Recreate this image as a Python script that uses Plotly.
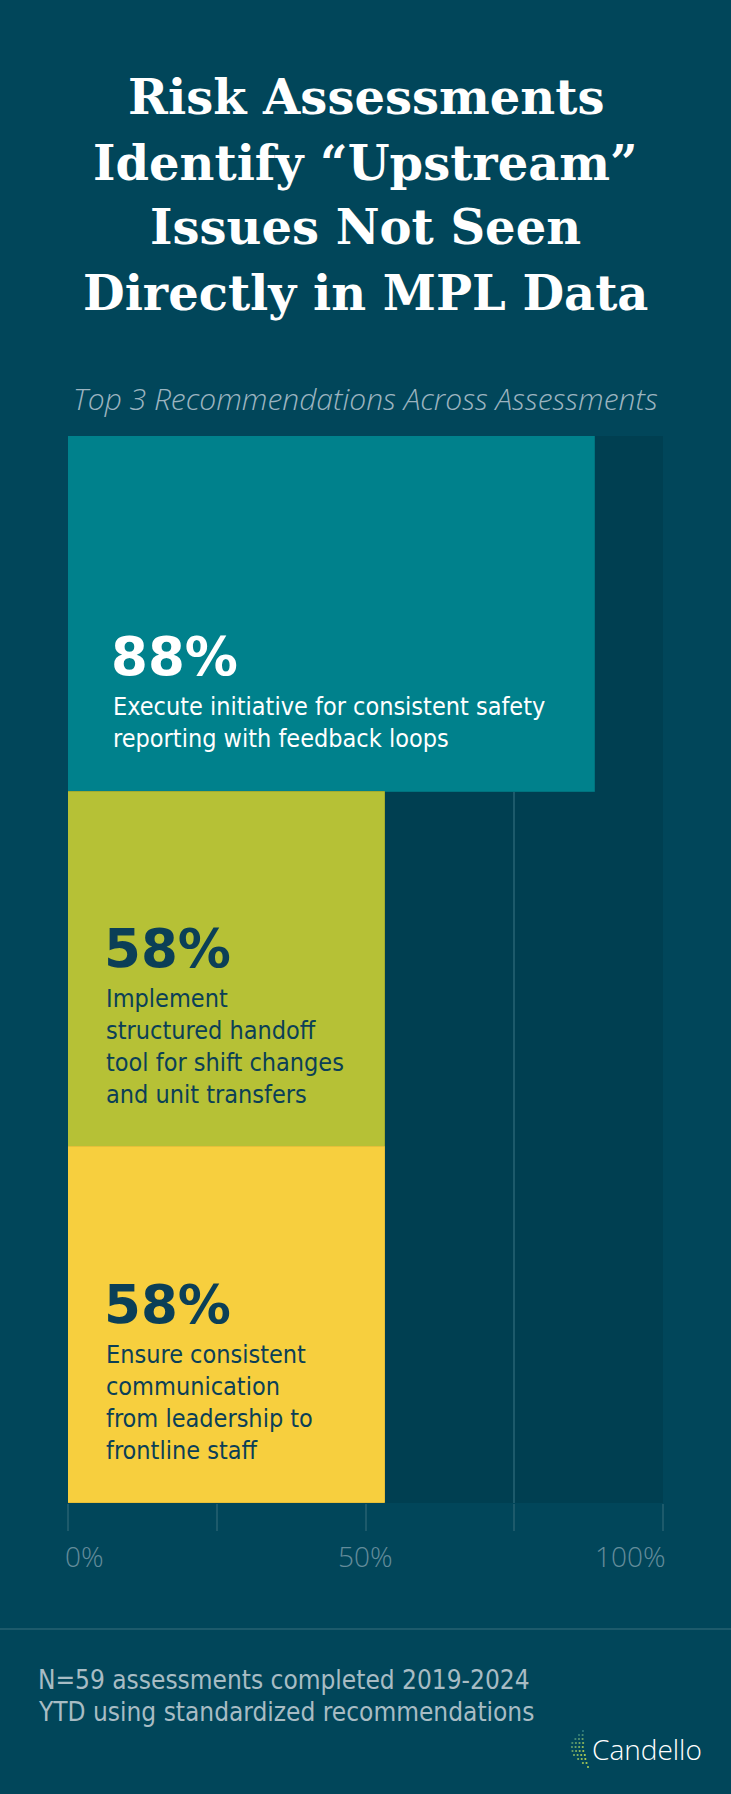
import numpy as np
import plotly.graph_objects as go

# ---------------- data ----------------
title_lines = ["Risk Assessments", "Identify “Upstream”", "Issues Not Seen", "Directly in MPL Data"]
subtitle = "Top 3 Recommendations Across Assessments"
recommendations = [
    ["Execute initiative for consistent safety", "reporting with feedback loops"],
    ["Implement", "structured handoff", "tool for shift changes", "and unit transfers"],
    ["Ensure consistent", "communication", "from leadership to", "frontline staff"],
]
pct_labels = ["88%", "58%", "58%"]
bar_lengths = [88.5, 53.2, 53.2]   # bar extents as drawn in the reference (percent of axis)
tick_values = [0, 50, 100]
tick_labels = ["0%", "50%", "100%"]
footnote_lines = ["N=59 assessments completed 2019-2024", "YTD using standardized recommendations"]
brand = "Candello"

# ---------------- styles ----------------
W, H = 731, 1794
L, R, T, B = 68, 68, 436, 291
PW, PH = W - L - R, H - T - B

PAGE = "#01465a"
PLOT = "#003f51"
GRID = "#1d5a6b"
NAVY = "#0b3f57"
bar_colors = ["#00818c", "#b6c136", "#f7cf3e"]
bar_edges = ["#00737e", "#a2ac2f", "#e6bf39"]
pct_colors = ["#ffffff", NAVY, NAVY]
desc_colors = ["#ffffff", NAVY, NAVY]
text_left_px = [111, 104, 104]

SERIF = "DejaVu Serif, Liberation Serif, serif"
NARROW = "Liberation Sans Narrow, Arial Narrow, DejaVu Sans Condensed, sans-serif"
SANS = "Open Sans, Lato, sans-serif"
BOLD = "DejaVu Sans, Noto Sans, sans-serif"


def xp(px):
    return (px - L) / PW


def yp(py):
    return (H - B - py) / PH


fig = go.Figure()
fig.add_trace(go.Bar(
    x=bar_lengths,
    y=list(range(len(bar_lengths))),
    orientation="h",
    width=1,
    marker=dict(color=bar_colors, line=dict(color=bar_edges, width=1)),
    hoverinfo="skip",
))

ann = []
# title
for i, line in enumerate(title_lines):
    ann.append(dict(text=f"<b>{line}</b>", xref="paper", yref="paper",
                    x=xp(W / 2), y=yp(97.5 + 65 * i), xanchor="center", yanchor="middle",
                    showarrow=False, font=dict(family=SERIF, size=48, color="#ffffff")))
# subtitle
ann.append(dict(text=subtitle, xref="paper", yref="paper", x=xp(W / 2), y=yp(399),
                xanchor="center", yanchor="middle", showarrow=False,
                font=dict(family=SANS, size=30, color="#9cb4c0", style="italic", weight=300)))

# bar labels (anchored to each bar, bottom-aligned stack of lines)
for i, (pct, lines) in enumerate(zip(pct_labels, recommendations)):
    n = len(lines)
    offsets = [125 - (n - 1 - k) * 32 for k in range(n)]
    xs = text_left_px[i] - L
    for k, line in enumerate(lines):
        ann.append(dict(text=line, xref="x", yref="y", x=0, y=i, xshift=xs, yshift=-offsets[k],
                        xanchor="left", yanchor="middle", showarrow=False,
                        font=dict(family=NARROW, size=25, color=desc_colors[i])))
    ann.append(dict(text=f"<b>{pct}</b>", xref="x", yref="y", x=0, y=i, xshift=xs - 2,
                    yshift=-(offsets[0] - 50), xanchor="left", yanchor="middle", showarrow=False,
                    font=dict(family=BOLD, size=53, color=pct_colors[i])))

# tick labels
anchors = ["left", "center", "right"]
shifts = [-5, 0, 5]
for v, t, a, s in zip(tick_values, tick_labels, anchors, shifts):
    ann.append(dict(text=t, xref="x", yref="paper", x=v, y=yp(1556), xshift=s,
                    xanchor=a, yanchor="middle", showarrow=False,
                    font=dict(family=SANS, size=28, color="#648c9a", weight=300)))

# footnote
for i, line in enumerate(footnote_lines):
    ann.append(dict(text=line, xref="paper", yref="paper", x=xp(36), y=yp(1680 + 31.7 * i),
                    xanchor="left", yanchor="middle", showarrow=False,
                    font=dict(family=NARROW, size=26, color="#a8bcc4")))

# brand
ann.append(dict(text=brand, xref="paper", yref="paper", x=xp(590), y=yp(1749),
                xanchor="left", yanchor="middle", showarrow=False,
                font=dict(family=SANS, size=28, color="#ffffff", weight=300)))

shapes = [dict(type="line", xref="paper", yref="paper", x0=xp(0), x1=xp(W), y0=yp(1629), y1=yp(1629),
               line=dict(color=GRID, width=2))]

# logo dots (decorative crescent)
c0 = np.array([0x2c, 0x7a, 0x80])
c1 = np.array([0xcc, 0xe0, 0x48])
rows = 10
for j in range(rows):
    t = j / (rows - 1)
    yc = 1731 + 36 * t
    xc = 583 + 5 * t - 8 * np.sin(np.pi * t)
    m = 1 + int(round(3.2 * np.sin(np.pi * t)))
    for k in range(m):
        x = xc - (m - 1) * 1.8 + k * 3.6
        f = min(1.0, max(0.0, 0.75 * t + 0.12 * k))
        col = "#%02x%02x%02x" % tuple((c0 + (c1 - c0) * f).astype(int))
        r = 1.1
        shapes.append(dict(type="circle", xref="paper", yref="paper",
                           x0=xp(x - r), x1=xp(x + r), y0=yp(yc + r), y1=yp(yc - r),
                           fillcolor=col, line=dict(width=0)))

fig.update_layout(
    width=W, height=H,
    margin=dict(l=L, r=R, t=T, b=B, pad=0),
    paper_bgcolor=PAGE, plot_bgcolor=PLOT,
    showlegend=False,
    bargap=0,
    xaxis=dict(range=[0, 100], dtick=25, tick0=0, showgrid=True, gridcolor=GRID, gridwidth=2,
               zeroline=False, showline=False, ticks="outside", ticklen=27, tickwidth=2,
               tickcolor=GRID, showticklabels=False, fixedrange=True),
    yaxis=dict(range=[len(bar_lengths) - 0.5, -0.5], showgrid=False, zeroline=False,
               showticklabels=False, ticks="", fixedrange=True),
    annotations=ann,
    shapes=shapes,
)

fig.write_html("out.html", config={"displayModeBar": False},
               post_script="document.body.style.margin='0';document.body.style.background='#01465a';")
